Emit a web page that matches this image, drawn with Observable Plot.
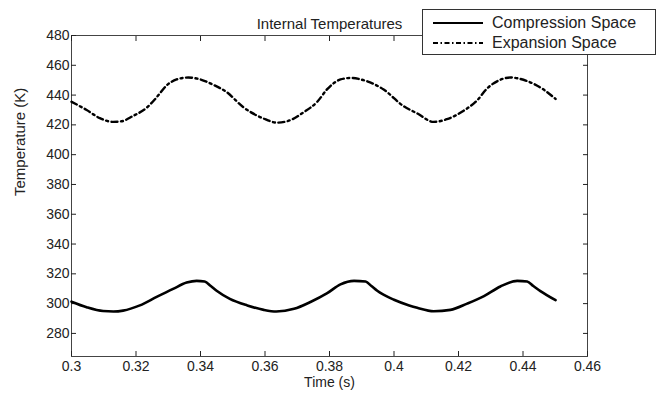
<!DOCTYPE html>
<html>
<head>
<meta charset="utf-8">
<script src="https://cdn.jsdelivr.net/npm/d3@7"></script>
<script src="https://cdn.jsdelivr.net/npm/@observablehq/plot@0.6"></script>
<style>
  html, body { margin: 0; padding: 0; background: white; }
  #wrap { position: relative; width: 658px; height: 393px; font-family: "Liberation Sans", Arial, sans-serif; }
  #legend { position: absolute; left: 422px; top: 9px; width: 232px; height: 44px; border: 1px solid #333; background: white; }
  .row { position: absolute; left: 0; height: 20px; display: flex; align-items: center; font-size: 16px; color: #222; }
  .row svg { margin-left: 10px; margin-right: 9px; }
</style>
</head>
<body>
<div id="wrap"></div>
<script>
const seriesNames = ["Compression Space", "Expansion Space"];
const titleText = "Internal Temperatures";
const xLabel = "Time (s)";
const yLabel = "Temperature (K)";
const xTicks = [0.30, 0.32, 0.34, 0.36, 0.38, 0.40, 0.42, 0.44, 0.46];
const yTicks = [280, 300, 320, 340, 360, 380, 400, 420, 440, 460, 480];

const compTime = [0.3000, 0.3047, 0.3098, 0.3130, 0.3160, 0.3212, 0.3264, 0.3315, 0.3357, 0.3388, 0.3413, 0.3432, 0.3450, 0.3491, 0.3545, 0.3596, 0.3635, 0.3690, 0.3741, 0.3793, 0.3834, 0.3876, 0.3912, 0.3930, 0.3948, 0.4000, 0.4047, 0.4072, 0.4123, 0.4175, 0.4227, 0.4279, 0.4330, 0.4382, 0.4413, 0.4432, 0.4454, 0.4501];
const compTemp = [301.3, 297.6, 295.0, 294.7, 295.3, 298.8, 304.5, 309.9, 314.1, 315.3, 314.8, 311.8, 308.6, 303.2, 298.8, 295.8, 294.7, 296.5, 301.1, 307.0, 312.9, 315.3, 314.8, 311.8, 308.6, 302.6, 298.8, 297.2, 294.9, 295.8, 300.0, 305.0, 311.5, 315.3, 314.8, 311.8, 308.4, 302.3];

const expTime = [0.3000, 0.3047, 0.3088, 0.3129, 0.3155, 0.3191, 0.3233, 0.3264, 0.3295, 0.3326, 0.3362, 0.3398, 0.3439, 0.3481, 0.3532, 0.3596, 0.3638, 0.3679, 0.3720, 0.3762, 0.3793, 0.3834, 0.3865, 0.3906, 0.3968, 0.4030, 0.4072, 0.4123, 0.4164, 0.4216, 0.4258, 0.4289, 0.4330, 0.4361, 0.4413, 0.4464, 0.4501];
const expTemp = [435.5, 430.0, 424.5, 422.0, 422.4, 426.0, 431.5, 438.5, 446.5, 450.5, 451.8, 450.6, 447.0, 442.0, 432.0, 424.2, 421.5, 423.2, 428.5, 435.5, 444.0, 450.5, 451.5, 450.0, 443.7, 432.5, 427.7, 422.0, 423.8, 429.5, 436.5, 444.5, 450.3, 451.8, 449.4, 443.7, 437.4];

const comp = compTime.map((t, i) => ({t, T: compTemp[i]}));
const expn = expTime.map((t, i) => ({t, T: expTemp[i]}));
const fmt = d => String(+d.toFixed(2));
const dash = "6,3.5,2,3.5";

const chart = Plot.plot({
  width: 658, height: 393,
  marginLeft: 71, marginRight: 71, marginTop: 35, marginBottom: 37,
  x: {domain: [0.3, 0.46]},
  y: {domain: [264.5, 480]},
  style: {fontFamily: "'Liberation Sans', Arial, sans-serif", fontSize: "13px", color: "#222", background: "white"},
  marks: [
    Plot.frame({stroke: "#444"}),
    Plot.axisX(xTicks, {anchor: "bottom", tickSize: -5, tickPadding: 10, tickFormat: fmt, label: null, fontSize: 14}),
    Plot.axisX(xTicks, {anchor: "top", tickSize: -5, tickFormat: () => "", label: null}),
    Plot.axisY(yTicks, {anchor: "left", tickSize: -5, tickPadding: 7, label: null, fontSize: 14}),
    Plot.axisY(yTicks, {anchor: "right", tickSize: -5, tickFormat: () => "", label: null}),
    Plot.line(comp, {x: "t", y: "T", stroke: "black", strokeWidth: 2.6, curve: "monotone-x"}),
    Plot.line(expn, {x: "t", y: "T", stroke: "black", strokeWidth: 2.4, strokeDasharray: dash, curve: "monotone-x"}),
    Plot.text([titleText], {text: d => d, frameAnchor: "top", dy: -17, fontSize: 15, fill: "#222"}),
    Plot.text([xLabel], {text: d => d, frameAnchor: "bottom", dy: 30, fontSize: 14, fill: "#222"}),
    Plot.text([yLabel], {text: d => d, frameAnchor: "left", dx: -51, rotate: -90, fontSize: 15, fill: "#222"})
  ]
});
const wrap = document.getElementById("wrap");
wrap.appendChild(chart);

const legend = document.createElement("div");
legend.id = "legend";
seriesNames.forEach((name, i) => {
  const row = document.createElement("div");
  row.className = "row";
  row.style.top = (3 + i * 20) + "px";
  const svg = d3.create("svg").attr("width", 50).attr("height", 10);
  svg.append("line").attr("x1", 0).attr("x2", 50).attr("y1", 5).attr("y2", 5)
    .attr("stroke", "black").attr("stroke-width", i === 0 ? 2.2 : 1.8)
    .attr("stroke-dasharray", i === 0 ? null : "5,2.5,1.5,2.5");
  row.appendChild(svg.node());
  const span = document.createElement("span");
  span.textContent = name;
  row.appendChild(span);
  legend.appendChild(row);
});
wrap.appendChild(legend);
</script>
</body>
</html>
